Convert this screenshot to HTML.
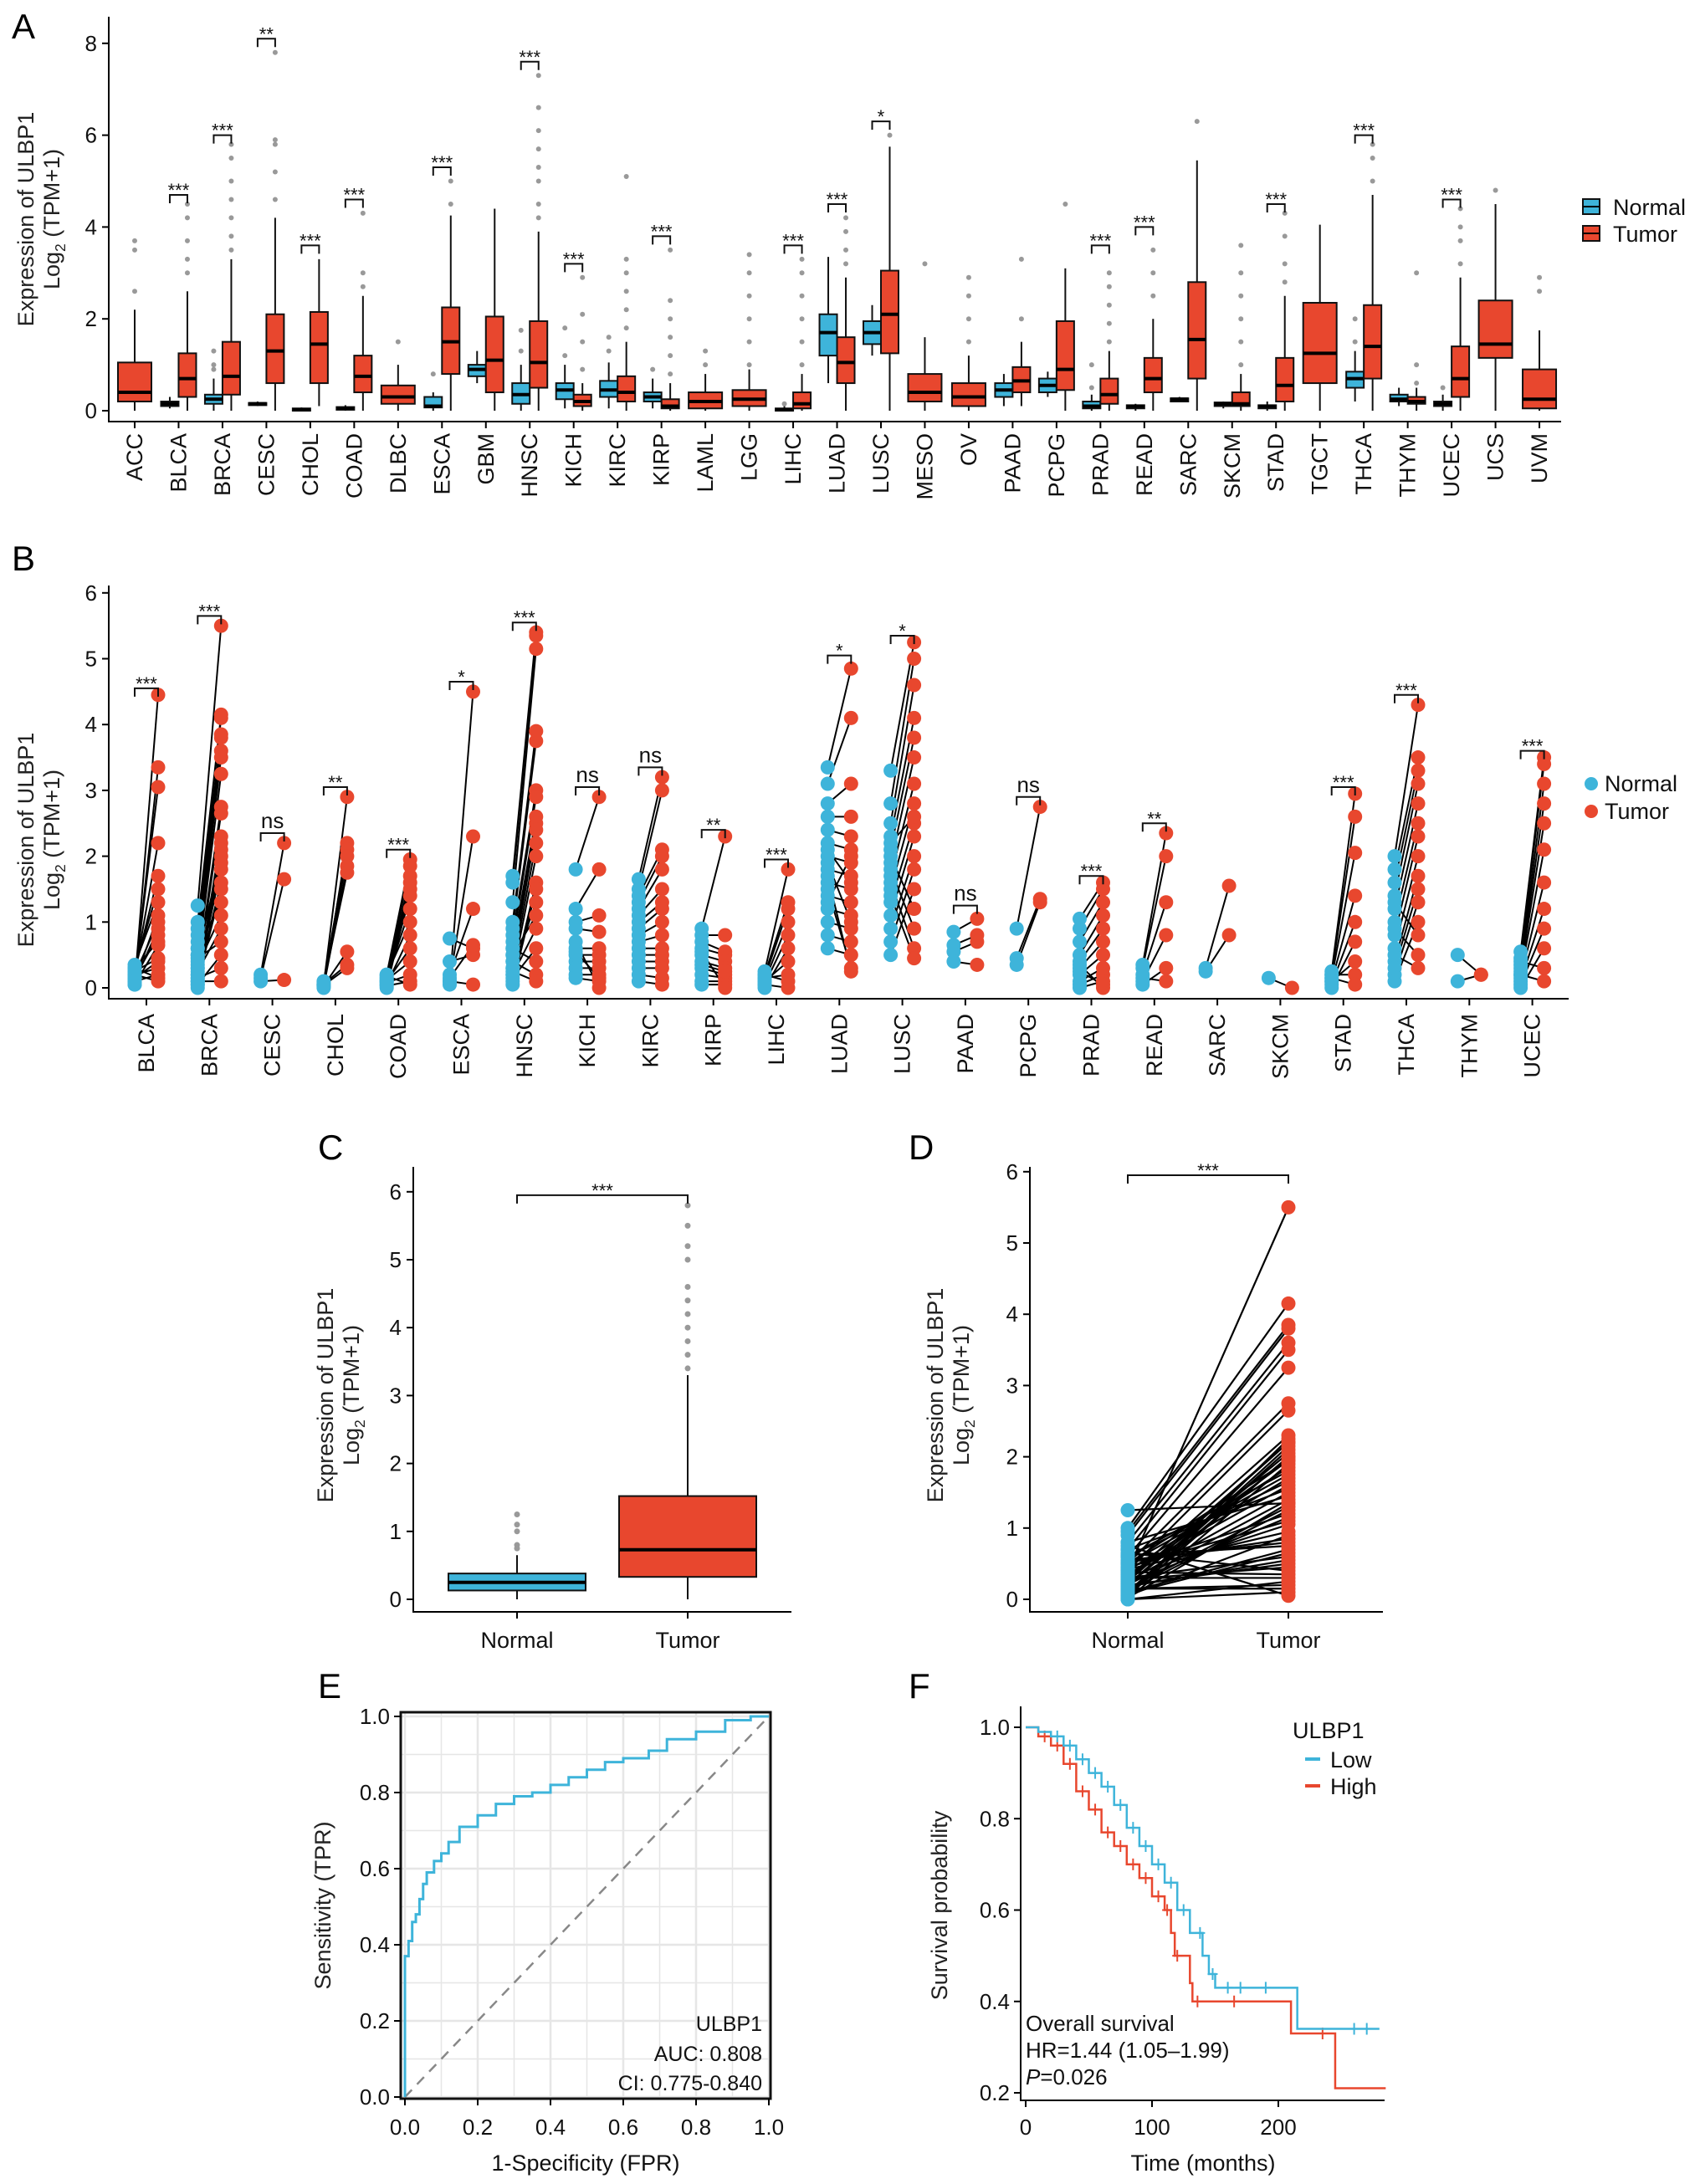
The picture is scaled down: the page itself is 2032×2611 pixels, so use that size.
<!DOCTYPE html>
<html><head><meta charset="utf-8"><style>
html,body{margin:0;padding:0;background:#fff}
svg{display:block;font-family:"Liberation Sans",sans-serif}
</style></head><body>
<svg id="fig" width="2032" height="2611" viewBox="0 0 2032 2611" xmlns="http://www.w3.org/2000/svg">
<rect width="2032" height="2611" fill="#fff"/>
<text x="14" y="46" font-size="42">A</text>
<text x="14" y="682" font-size="42">B</text>
<text x="380" y="1386" font-size="42">C</text>
<text x="1086" y="1386" font-size="42">D</text>
<text x="380" y="2030" font-size="42">E</text>
<text x="1086" y="2030" font-size="42">F</text>
</svg>
<script>
// ---------- DATA ----------
const catsA=["ACC","BLCA","BRCA","CESC","CHOL","COAD","DLBC","ESCA","GBM","HNSC","KICH","KIRC","KIRP","LAML","LGG","LIHC","LUAD","LUSC","MESO","OV","PAAD","PCPG","PRAD","READ","SARC","SKCM","STAD","TGCT","THCA","THYM","UCEC","UCS","UVM"];
const normalA=[null,[0.1,0.15,0.2,0.05,0.3],[0.15,0.25,0.35,0,0.7],[0.12,0.15,0.17,0.1,0.2],[0,0.02,0.05,0,0.07],[0.02,0.05,0.08,0,0.12],null,[0.07,0.1,0.3,0,0.4],[0.75,0.9,1.0,0.6,1.3],[0.15,0.35,0.6,0,1.0],[0.25,0.45,0.6,0.05,1.0],[0.3,0.45,0.65,0.05,1.05],[0.2,0.3,0.4,0.05,0.7],null,null,[0,0.02,0.05,0,0.1],[1.2,1.7,2.1,0.6,3.35],[1.45,1.7,1.95,1.2,2.3],null,null,[0.3,0.45,0.6,0.1,0.8],[0.4,0.55,0.7,0.3,0.85],[0.05,0.1,0.2,0,0.35],[0.05,0.1,0.12,0,0.15],[0.2,0.25,0.27,0.2,0.3],[0.1,0.15,0.18,0.05,0.2],[0.05,0.1,0.12,0,0.2],null,[0.5,0.7,0.85,0.2,1.3],[0.2,0.25,0.35,0.1,0.5],[0.1,0.15,0.2,0,0.35],null,null];
const normalOutA=[[],[],[0.9,1.0,1.3],[],[],[],[],[0.8],[],[1.3,1.75],[1.2,1.8],[1.3,1.6],[0.9],[],[],[0.15],[],[],[],[],[],[],[0.5,1.0],[],[],[],[],[],[1.5,2.0],[],[0.5],[],[]];
const tumorA=[[0.2,0.4,1.05,0,2.2],[0.3,0.7,1.25,0,2.6],[0.35,0.75,1.5,0,3.3],[0.6,1.3,2.1,0,4.2],[0.6,1.45,2.15,0.1,3.3],[0.4,0.75,1.2,0,2.5],[0.15,0.3,0.55,0,1.0],[0.8,1.5,2.25,0,4.25],[0.4,1.1,2.05,0,4.4],[0.5,1.05,1.95,0,3.9],[0.1,0.2,0.35,0,0.6],[0.2,0.4,0.75,0,1.5],[0.05,0.1,0.25,0,0.6],[0.05,0.2,0.4,0,0.8],[0.1,0.25,0.45,0,0.9],[0.05,0.15,0.4,0,0.8],[0.6,1.05,1.6,0,2.9],[1.25,2.1,3.05,0,5.75],[0.2,0.4,0.8,0,1.6],[0.1,0.3,0.6,0,1.2],[0.4,0.65,0.95,0.1,1.5],[0.45,0.9,1.95,0,3.1],[0.15,0.35,0.7,0,1.3],[0.4,0.7,1.15,0,2.0],[0.7,1.55,2.8,0,5.45],[0.1,0.15,0.4,0,0.8],[0.2,0.55,1.15,0,2.5],[0.6,1.25,2.35,0,4.05],[0.7,1.4,2.3,0,4.7],[0.15,0.2,0.3,0,0.5],[0.3,0.7,1.4,0,2.9],[1.15,1.45,2.4,0,4.5],[0.05,0.25,0.9,0,1.75]];
const tumorOutA=[[2.6,3.5,3.7],[3.0,3.3,3.7,4.2,4.5],[3.5,3.8,4.2,4.6,5.0,5.5,5.8],[4.6,5.2,5.8,5.9,7.8],[],[2.7,3.0,4.3],[1.5],[4.5,5.0],[],[4.2,4.5,5.0,5.3,5.7,6.1,6.6,7.3],[0.9,1.5,2.1,2.9],[1.8,2.2,2.6,3.0,3.3,5.1],[0.8,1.2,1.6,2.0,2.4,3.5],[1.0,1.3],[1.0,1.5,2.0,2.5,3.0,3.4],[1.0,1.5,2.0,2.5,3.0,3.3],[3.2,3.5,3.9,4.2],[6.0],[3.2],[1.5,2.0,2.5,2.9],[2.0,3.3],[4.5],[1.5,1.9,2.3,2.7,3.0],[2.5,3.0,3.5],[6.3],[1.0,1.5,2.0,2.5,3.0,3.6],[2.8,3.2,3.8,4.3],[],[5.0,5.5,5.8],[0.6,1.0,3.0],[3.2,3.7,4.0,4.4],[4.8],[2.6,2.9]];
const sigA=["","***","***","**","***","***","","***","","***","***","","***","","","***","***","*","","","","","***","***","","","***","","***","","***","",""];
const sigYA=[0,4.7,6.0,8.1,3.6,4.6,0,5.3,0,7.6,3.2,0,3.8,0,0,3.6,4.5,6.3,0,0,0,0,3.6,4.0,0,0,4.5,0,6.0,0,4.6,0,0];
const ticksA=[0,2,4,6,8];

const catsB=["BLCA","BRCA","CESC","CHOL","COAD","ESCA","HNSC","KICH","KIRC","KIRP","LIHC","LUAD","LUSC","PAAD","PCPG","PRAD","READ","SARC","SKCM","STAD","THCA","THYM","UCEC"];
const normalB=[[0.05,0.1,0.15,0.2,0.25,0.3,0.35,0.1,0.2,0.15,0.3,0.05,0.25,0.2,0.1,0.3,0.2,0.15,0.1],[1.25,1.0,0.9,0.8,0.7,0.6,0.5,0.4,0.3,0.2,0.1,0.05,0,0.5,0.3,0.2,0.15,0.1,0.6,0.35,0.25,0.45,0.05,0.15,0.1],[0.2,0.15,0.1],[0.05,0,0.1,0.05,0.02,0.08,0.03,0.06,0.04],[0.2,0.15,0.1,0.05,0,0.1,0.15,0.2,0.05,0.1,0.12,0.08,0.03,0.18],[0.05,0.1,0.2,0.75,0.4,0.15,0.1],[1.7,1.6,1.3,1.0,0.9,0.8,0.7,0.6,0.5,0.4,0.3,0.2,0.1,0.05,0.3,0.5,0.2,0.15,0.6,0.4,0.25],[1.8,1.2,1.0,0.9,0.6,0.5,0.4,0.3,0.2,0.15,0.7,0.55],[1.65,1.5,1.4,1.3,1.2,1.1,1.0,0.9,0.8,0.7,0.6,0.5,0.4,0.3,0.2,0.1],[0.9,0.8,0.7,0.6,0.5,0.4,0.3,0.2,0.1,0.05,0.55,0.35],[0.25,0.2,0.15,0.1,0.05,0,0.1,0.15,0.2,0.05],[3.35,3.1,2.8,2.6,2.4,2.2,2.0,1.8,1.6,1.4,1.2,1.0,0.8,0.6,1.5,1.7,1.9,2.1,1.3],[3.3,2.8,2.5,2.3,2.1,1.9,1.7,1.5,1.3,1.1,0.9,0.7,0.5,2.0,1.8,1.6,1.4,2.2],[0.85,0.65,0.55,0.4],[0.9,0.45,0.35],[1.05,0.9,0.7,0.5,0.4,0.3,0.2,0.1,0.05,0,0.35,0.25],[0.35,0.3,0.2,0.1,0.05,0.15],[0.3,0.25],[0.15],[0.25,0.2,0.15,0.1,0.05,0,0.1,0.2,0.15],[2.0,1.8,1.6,1.4,1.2,1.0,0.8,0.6,0.4,0.3,0.2,0.1,1.3,0.9,0.5],[0.5,0.1],[0.55,0.45,0.35,0.3,0.25,0.2,0.15,0.1,0.05,0,0.4,0.2]];
const tumorB=[[4.45,3.35,3.05,2.2,1.7,1.5,1.3,1.1,1.0,0.8,0.7,0.65,0.45,0.3,0.2,0.15,0.1,0.4,0.9],[5.5,4.15,4.1,3.85,3.8,3.6,3.5,3.25,2.75,2.65,2.3,2.2,2.1,2.0,1.9,1.8,1.6,1.5,1.3,1.1,0.9,0.7,0.5,0.3,0.1],[2.2,1.65,0.12],[2.9,2.2,2.1,2.0,1.85,1.75,0.55,0.35,0.3],[1.95,1.85,1.7,1.6,1.5,1.4,1.2,1.0,0.8,0.6,0.4,0.2,0.1,0.05],[4.5,2.3,1.2,0.6,0.5,0.65,0.05],[5.4,5.35,5.15,3.9,3.75,3.0,2.9,2.6,2.5,2.4,2.2,2.0,1.6,1.5,1.3,1.1,0.9,0.6,0.4,0.2,0.1],[2.9,1.8,1.1,0.85,0.6,0.5,0.4,0.3,0.2,0.1,0,0.15],[3.2,3.0,2.1,2.0,1.8,1.5,1.3,1.2,1.0,0.8,0.6,0.5,0.4,0.3,0.15,0.05],[2.3,0.8,0.55,0.5,0.4,0.3,0.2,0.15,0.1,0.05,0,0.25],[1.8,1.3,1.2,1.0,0.8,0.6,0.4,0.2,0.1,0],[4.85,4.1,3.1,2.6,2.3,2.1,1.9,1.7,1.5,1.3,1.1,0.9,0.7,0.5,0.3,0.25,1.0,1.6,2.0],[5.25,5.0,4.6,4.1,3.8,3.5,3.1,2.8,2.5,2.3,2.0,1.8,1.5,1.2,0.9,0.6,0.45,2.6],[1.05,0.8,0.7,0.35],[2.75,1.35,1.3],[1.6,1.5,1.3,1.1,0.9,0.7,0.5,0.3,0.2,0.1,0,0.05],[2.35,2.0,1.3,0.8,0.3,0.1],[1.55,0.8],[0],[2.95,2.6,2.05,1.4,1.0,0.7,0.4,0.2,0.05],[4.3,3.5,3.3,3.1,2.8,2.5,2.3,2.0,1.7,1.5,1.3,1.0,0.8,0.5,0.3],[0.2,0.2],[3.5,3.4,3.1,2.8,2.5,2.1,1.6,1.2,0.9,0.6,0.3,0.1]];
const sigB=["***","***","ns","**","***","*","***","ns","ns","**","***","*","*","ns","ns","***","**","","","***","***","","***"];
const sigYB=[4.55,5.65,2.35,3.05,2.1,4.65,5.55,3.05,3.35,2.4,1.95,5.05,5.35,1.25,2.9,1.7,2.5,0,0,3.05,4.45,0,3.6];
const ticksB=[0,1,2,3,4,5,6];

const groupsC=["Normal","Tumor"];
const statsC=[[0.13,0.25,0.38,0,0.65],[0.33,0.73,1.52,0,3.3]];
const outC=[[0.75,0.8,1.0,1.1,1.25],[3.4,3.6,3.8,4.0,4.2,4.4,4.6,5.0,5.2,5.5,5.8]];
const ticksC=[0,1,2,3,4,5,6];

const normalD=[1.25,1.0,0.95,0.9,0.8,0.7,0.6,0.5,0.4,0.3,0.2,0.1,0.05,0,0.6,0.35,0.25,0.15,0.45,0.05,0.1,0.2,0.3,0,0.75,0.5,0.4,0.15,0.05,0.1,0.2,0.3,0.4,0.5,0.6,0.7,0.8,0.02,0.12,0.22,0.32,0.42,0.52,0.62,0.08,0.18,0.28,0.38,0.0,0.15,0.25,0.35,0.45,0.55,0.65,0.1,0.2,0.3];
const tumorD=[1.35,4.15,3.85,3.8,3.6,3.5,3.25,2.75,2.65,2.3,2.2,2.1,2.0,1.9,1.8,1.6,1.5,1.3,1.1,0.9,0.7,0.5,0.3,0.1,0.05,1.95,5.5,0.2,2.25,2.15,2.05,1.95,1.85,1.75,1.65,1.55,1.45,1.35,1.25,1.15,1.05,0.95,0.85,0.75,0.65,0.55,0.45,0.35,0.25,0.15,2.2,1.7,1.2,0.8,0.4,2.0,1.4,0.6];

const rocFpr=[0,0,0.01,0.02,0.03,0.04,0.05,0.06,0.08,0.1,0.12,0.15,0.2,0.25,0.3,0.35,0.4,0.45,0.5,0.55,0.6,0.67,0.72,0.8,0.88,0.95,1];
const rocTpr=[0,0.3,0.37,0.41,0.46,0.48,0.52,0.56,0.59,0.62,0.64,0.67,0.71,0.74,0.77,0.79,0.8,0.82,0.84,0.86,0.88,0.89,0.91,0.94,0.96,0.99,1];
const rocTicks=[0,0.2,0.4,0.6,0.8,1.0];

const kmLowT=[0,10,20,30,40,50,60,70,80,90,100,110,120,130,140,145,150,215,280];
const kmLowS=[1,0.99,0.98,0.96,0.93,0.9,0.87,0.83,0.78,0.74,0.7,0.66,0.6,0.55,0.5,0.46,0.43,0.34,0.34];
const kmHighT=[0,10,20,30,40,50,60,70,80,90,100,110,115,118,130,132,210,245,285];
const kmHighS=[1,0.98,0.96,0.92,0.86,0.82,0.77,0.74,0.7,0.67,0.63,0.6,0.55,0.5,0.44,0.4,0.33,0.21,0.21];
const censLow=[25,35,45,55,65,75,85,95,105,115,125,138,148,160,170,190,260,270];
const censHigh=[15,25,35,45,55,65,75,85,95,105,112,120,136,165,235];
const kmXTicks=[0,100,200];
const kmYTicks=[0.2,0.4,0.6,0.8,1.0];

// ---------- HELPERS ----------
const NS="http://www.w3.org/2000/svg";
const svg=document.getElementById('fig');
const BLUE="#3EB4DA", RED="#E8472E";
function mk(tag,attrs,parent){const e=document.createElementNS(NS,tag);for(const k in attrs)e.setAttribute(k,attrs[k]);(parent||svg).appendChild(e);return e;}
function grp(name){const g=mk('g',{});return g;}
function line(p,x1,y1,x2,y2,st,w){return mk('line',{x1,y1,x2,y2,stroke:st||'#000','stroke-width':w||2},p);}
function txt(p,x,y,s,fs,anchor,extra){const t=mk('text',Object.assign({x,y,'font-size':fs,'text-anchor':anchor||'middle',fill:'#111'},extra||{}),p);t.textContent=s;return t;}
function yTitle(p,cx,cy,l1,l2,fs){
  const t=mk('text',{transform:`translate(${cx},${cy}) rotate(-90)`,'text-anchor':'middle','font-size':fs,fill:'#222'},p);
  const a=mk('tspan',{x:0,dy:0},t);a.textContent=l1;
  if(l2){const b=mk('tspan',{x:0,dy:fs*1.15},t);b.textContent='Log';
    const c=mk('tspan',{'font-size':fs*0.65,dy:fs*0.25},t);c.textContent='2';
    const d=mk('tspan',{dy:-fs*0.25},t);d.textContent=' (TPM+1)';}
  return t;}
function box(p,cx,w,s,col,yf){
  line(p,cx,yf(s[3]),cx,yf(s[0]),'#111',2);line(p,cx,yf(s[2]),cx,yf(s[4]),'#111',2);
  const r=mk('rect',{x:cx-w/2,y:yf(s[2]),width:w,height:Math.max(1,yf(s[0])-yf(s[2])),fill:col,stroke:'#111','stroke-width':2},p);
  line(p,cx-w/2,yf(s[1]),cx+w/2,yf(s[1]),'#000',4);return r;}
function bracket(p,x1,x2,yy,lab,fs){
  mk('path',{d:`M${x1},${yy+10} V${yy} H${x2} V${yy+10}`,fill:'none',stroke:'#111','stroke-width':2},p);
  const t=txt(p,(x1+x2)/2,lab==='ns'?yy-6:yy+2,lab,lab==='ns'?fs:fs*0.85);return t;}

// ---------- PANEL A ----------
(function(){
  const g=grp('panel-a');
  const x0=161,dx=52.47,yA=v=>491-v*54.9;
  line(g,130,20,130,505);line(g,129,504,1866,504);
  ticksA.forEach(v=>{line(g,122,yA(v),130,yA(v));const t=txt(g,116,yA(v)+9,String(v),26,'end');});
  const yt=yTitle(g,40,262,'Expression of ULBP1',true,27);
  
  catsA.forEach((c,i)=>{
    const cx=x0+i*dx;
    line(g,cx,504,cx,512);
    const t=mk('text',{transform:`translate(${cx+9},518) rotate(-90)`,'text-anchor':'end','font-size':27,fill:'#111'},g);t.textContent=c;
    
    const hasN=!!normalA[i];
    const nx=hasN?cx-10.5:cx, tx=hasN?cx+10.5:cx, w=hasN?21:40;
    if(hasN){const b=box(g,nx,w,normalA[i],BLUE,yA);
      normalOutA[i].forEach(v=>{const o=mk('circle',{cx:nx,cy:yA(v),r:3,fill:'#999'},g);});}
    const b2=box(g,tx,w,tumorA[i],RED,yA);
    tumorOutA[i].forEach(v=>{const o=mk('circle',{cx:tx,cy:yA(v),r:3,fill:'#999'},g);});
    if(sigA[i]){const s=bracket(g,nx,tx,yA(sigYA[i]),sigA[i],26);}
  });
  const lg=grp('legend-a');
  [['Normal',BLUE,248],['Tumor',RED,280]].forEach(([n,c,y])=>{
    const r=mk('rect',{x:1892,y:y-10,width:20,height:18,fill:c,stroke:'#111','stroke-width':2},lg);
    line(lg,1892,y-1,1912,y-1,'#000',2);
    const t=txt(lg,1928,y+9,n,27,'start');});
})();

// ---------- PANEL B ----------
(function(){
  const g=grp('panel-b');
  const x0=175,dx=75.3,yB=v=>1181-v*78.7;
  line(g,130,700,130,1195);line(g,129,1194,1875,1194);
  ticksB.forEach(v=>{line(g,122,yB(v),130,yB(v));const t=txt(g,116,yB(v)+9,String(v),26,'end');});
  const yt=yTitle(g,40,1004,'Expression of ULBP1',true,27);
  
  catsB.forEach((c,i)=>{
    const cx=x0+i*dx,nx=cx-14,tx=cx+14;
    line(g,cx,1194,cx,1202);
    const t=mk('text',{transform:`translate(${cx+9},1212) rotate(-90)`,'text-anchor':'end','font-size':27,fill:'#111'},g);t.textContent=c;
    
    normalB[i].forEach((v,j)=>{const l=line(g,nx,yB(v),tx,yB(tumorB[i][j]),'#000',2);});
    normalB[i].forEach(v=>{const p=mk('circle',{cx:nx,cy:yB(v),r:8.5,fill:BLUE},g);});
    tumorB[i].forEach(v=>{const p=mk('circle',{cx:tx,cy:yB(v),r:8.5,fill:RED},g);});
    if(sigB[i]){const s=bracket(g,nx,tx,yB(sigYB[i]),sigB[i],26);}
  });
  const lg=grp('legend-b');
  [['Normal',BLUE,937],['Tumor',RED,970]].forEach(([n,c,y])=>{
    const p=mk('circle',{cx:1902,cy:y,r:8,fill:c},lg);
    const t=txt(lg,1918,y+9,n,27,'start');});
})();

// ---------- PANEL C ----------
(function(){
  const g=grp('panel-c');
  const yC=v=>1912-v*81.2, xs=[618,822];
  line(g,494,1395,494,1928);line(g,493,1927,946,1927);
  ticksC.forEach(v=>{line(g,486,yC(v),494,yC(v));const t=txt(g,480,yC(v)+9,String(v),26,'end');});
  const yt=yTitle(g,398,1668,'Expression of ULBP1',true,27);
  
  groupsC.forEach((n,i)=>{
    line(g,xs[i],1927,xs[i],1935);
    const t=txt(g,xs[i],1970,n,27);
    const b=box(g,xs[i],164,statsC[i],i?RED:BLUE,yC);
    outC[i].forEach(v=>{const o=mk('circle',{cx:xs[i],cy:yC(v),r:3.5,fill:'#999'},g);});
  });
  const s=bracket(g,xs[0],xs[1],yC(5.95),'***',26);
})();

// ---------- PANEL D ----------
(function(){
  const g=grp('panel-d');
  const yD=v=>1912-v*85.2, nx=1348, tx=1540;
  line(g,1231,1395,1231,1928);line(g,1230,1927,1653,1927);
  ticksC.forEach(v=>{line(g,1223,yD(v),1231,yD(v));const t=txt(g,1217,yD(v)+9,String(v),26,'end');});
  const yt=yTitle(g,1127,1668,'Expression of ULBP1',true,27);
  
  [['Normal',nx],['Tumor',tx]].forEach(([n,x])=>{line(g,x,1927,x,1935);const t=txt(g,x,1970,n,27);});
  normalD.forEach((v,j)=>{const l=line(g,nx,yD(v),tx,yD(tumorD[j]),'#000',2.2);});
  normalD.forEach(v=>{const p=mk('circle',{cx:nx,cy:yD(v),r:8.5,fill:BLUE},g);});
  tumorD.forEach(v=>{const p=mk('circle',{cx:tx,cy:yD(v),r:8.5,fill:RED},g);});
  const s=bracket(g,nx,tx,yD(5.95),'***',26);
})();

// ---------- PANEL E (ROC) ----------
(function(){
  const g=grp('panel-e');
  const xE=v=>484+v*435, yE=v=>2507-v*455;
  for(let k=0;k<=10;k++){const v=k/10;line(g,xE(v),2047,xE(v),2509,'#e6e6e6',k%2===0?2.5:1.5);line(g,479,yE(v),921,yE(v),'#e6e6e6',k%2===0?2.5:1.5);}
  const fr=mk('rect',{x:479,y:2047,width:442,height:462,fill:'none',stroke:'#111','stroke-width':3},g);
  const dg=line(g,xE(0),yE(0),xE(1),yE(1),'#888',2.5);dg.setAttribute('stroke-dasharray','12,9');
  let d=`M${xE(rocFpr[0])},${yE(rocTpr[0])}`;
  for(let i=1;i<rocFpr.length;i++){d+=` V${yE(rocTpr[i])} H${xE(rocFpr[i])}`;}
  const rc=mk('path',{d,fill:'none',stroke:BLUE,'stroke-width':3},g);
  rocTicks.forEach(v=>{
    line(g,xE(v),2509,xE(v),2517);line(g,471,yE(v),479,yE(v));
    const a=txt(g,xE(v),2552,v.toFixed(1),26);
    const b=txt(g,466,yE(v)+9,v.toFixed(1),26,'end');});
  const xt=txt(g,700,2595,'1-Specificity (FPR)',27);
  const yt=mk('text',{transform:'translate(395,2278) rotate(-90)','text-anchor':'middle','font-size':27,fill:'#222'},g);yt.textContent='Sensitivity (TPR)';
  
  [['ULBP1',2428],['AUC: 0.808',2464],['CI: 0.775-0.840',2499]].forEach(([s,y])=>{const t=txt(g,911,y,s,25,'end');});
})();

// ---------- PANEL F (KM) ----------
(function(){
  const g=grp('panel-f');
  const xF=v=>1226+v*1.51, yF=v=>2502-(v-0.2)*546.25;
  line(g,1220,2040,1220,2512);line(g,1219,2511,1655,2511);
  kmXTicks.forEach(v=>{line(g,xF(v),2511,xF(v),2519);const t=txt(g,xF(v),2552,String(v),26);});
  kmYTicks.forEach(v=>{line(g,1212,yF(v),1220,yF(v));const t=txt(g,1207,yF(v)+9,v.toFixed(1),26,'end');});
  const xt=txt(g,1438,2595,'Time (months)',27);
  const yt=mk('text',{transform:'translate(1132,2278) rotate(-90)','text-anchor':'middle','font-size':27,fill:'#222'},g);yt.textContent='Survival probability';
  
  function stepAt(T,S,t){let s=S[0];for(let i=0;i<T.length;i++){if(T[i]<=t)s=S[i];}return s;}
  function curve(T,S,col,cens,name){
    let d=`M${xF(T[0])},${yF(S[0])}`;
    for(let i=1;i<T.length;i++){d+=` H${xF(T[i])} V${yF(S[i])}`;}
    const p=mk('path',{d,fill:'none',stroke:col,'stroke-width':2.5},g);
    
    
    cens.forEach(t=>{const y=yF(stepAt(T,S,t)),x=xF(t);const c=mk('path',{d:`M${x},${y-7} V${y+7} M${x-6},${y} H${x+6}`,stroke:col,'stroke-width':2},g);
      
      });
  }
  curve(kmHighT,kmHighS,RED,censHigh,'km-curve-high');
  curve(kmLowT,kmLowS,BLUE,censLow,'km-curve-low');
  const lg=grp('legend-f');
  const lt=txt(lg,1545,2078,'ULBP1',27,'start');
  [['Low',BLUE,2103],['High',RED,2135]].forEach(([n,c,y])=>{line(lg,1560,y,1578,y,c,4);const t=txt(lg,1590,y+10,n,27,'start');});
  const a1=txt(g,1226,2428,'Overall survival',26,'start');
  const a2=txt(g,1226,2460,'HR=1.44 (1.05–1.99)',26,'start');
  const a3=mk('text',{x:1226,y:2492,'font-size':26,fill:'#111'},g);
  const i1=mk('tspan',{'font-style':'italic'},a3);i1.textContent='P';const i2=mk('tspan',{},a3);i2.textContent='=0.026';
})();
</script>
</body></html>
